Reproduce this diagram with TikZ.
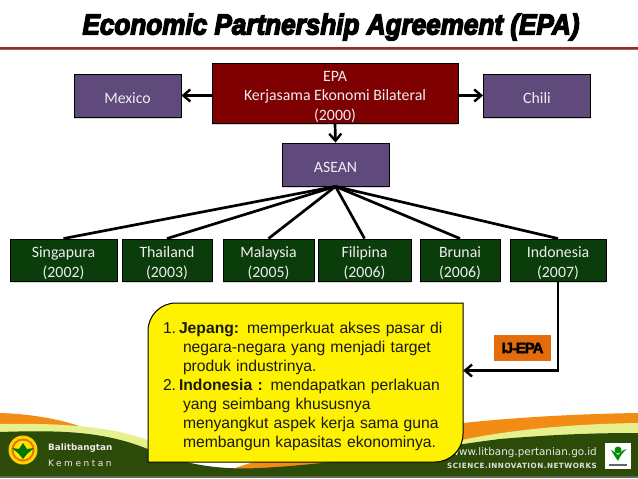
\documentclass[tikz,border=0pt]{standalone}
\usepackage{fontspec}
\usetikzlibrary{arrows.meta,shadows,calc}
\setmainfont{Carlito}
\newfontfamily\arialf{Liberation Sans}
\newfontfamily\titlef[FakeBold=5]{Liberation Sans Bold Italic}
\newfontfamily\tagf[FakeBold=2.5,LetterSpace=-7]{Liberation Sans Bold}
\newfontfamily\smallf{DejaVu Sans}
\newcommand{\toproom}[1]{\rule{0pt}{#1pt}}
\definecolor{purplebox}{HTML}{604A7B}
\definecolor{redbox}{HTML}{7F0000}
\definecolor{greenbox}{HTML}{0B3D0B}
\definecolor{boxtext}{HTML}{F0EDF2}
\definecolor{wavedark}{HTML}{2C4A08}
\definecolor{wavelight}{HTML}{E6F08C}
\definecolor{waveorange}{HTML}{F28C14}
\definecolor{ruler}{HTML}{AE2024}
\tikzset{
  orgbox/.style={draw=black,line width=0.9pt,inner sep=0pt,align=center,text=boxtext,
    font=\fontsize{15.8}{19.5}\selectfont,
    drop shadow={shadow xshift=0pt,shadow yshift=-2pt,opacity=.3}},
  purplenode/.style={orgbox,fill=purplebox,minimum width=107pt,minimum height=43pt},
  rednode/.style={orgbox,fill=redbox,minimum width=246pt,minimum height=60pt},
  countrynode/.style={orgbox,fill=greenbox,minimum height=42pt},
  link/.style={draw=black,line width=2.7pt},
  arrowlink/.style={link,-{Straight Barb[length=7pt,width=12pt,line width=2.4pt]}},
}
\begin{document}
\begin{tikzpicture}[x=1pt,y=-1pt]
\useasboundingbox[fill=white] (0,0) rectangle (638,479);
% footer waves
\fill[waveorange] (0,413) .. controls (35,414) and (70,421) .. (92,431) -- (0,440) -- cycle;
\fill[waveorange] (235,468) .. controls (320,440) and (450,416) .. (638,413) -- (638,440) -- (235,472) -- cycle;
\fill[wavelight] (0,424) .. controls (50,423) and (110,425) .. (150,441) .. controls (165,448) and (180,458) .. (195,465) -- (0,470) -- cycle;
\fill[wavelight] (440,445) .. controls (500,430) and (570,424) .. (638,423) -- (638,440) -- (440,450) -- cycle;
\fill[wavedark] (0,432) .. controls (60,430) and (105,431) .. (150,450) .. controls (185,465) and (220,470) .. (260,468) .. controls (340,464) and (430,448) .. (500,439) .. controls (560,434) and (600,433) .. (638,433) -- (638,476) -- (0,476) -- cycle;
\fill[black!45!wavedark!70!white] (0,476) rectangle (638,478);
% left logo
\fill[yellow!70!orange] (23,450) circle (14.5);
\fill[orange!90!black] (23,450) circle (11.5);
\fill[yellow!85!orange] (23,450) circle (9.5);
\fill[green!45!black] (23,443) -- (27,449) -- (34,448) -- (27,454) -- (23,459) -- (19,454) -- (12,448) -- (19,449) -- cycle;
% right logo
\fill[white] (605,443) rectangle (631,469);
\fill[green!55!black] (611,450) .. controls (614,455) and (616,458) .. (618,461) .. controls (620,456) and (623,452) .. (627,449) .. controls (623,450) and (620,452) .. (618,455) .. controls (616,453) and (614,451) .. (611,450) -- cycle;
\fill[green!55!black] (618,450) circle (3.5);
\fill[black!60] (609,464) rectangle (627,466);
% footer text
\node[anchor=west,inner sep=0pt,text=white!92!black,font=\smallf\bfseries\fontsize{8.8}{10}\selectfont] (unit) at (48,448) {Balitbangtan};
\node[anchor=west,inner sep=0pt,text=white!92!black,font=\smallf\fontsize{9}{10}\selectfont\addfontfeature{LetterSpace=28}] (ministry) at (48,463) {Kementan};
\node[anchor=east,inner sep=0pt,text=white!92!black,font=\smallf\fontsize{10.4}{12}\selectfont] (web) at (597,453) {www.litbang.pertanian.go.id};
\node[anchor=east,inner sep=0pt,text=white!88!black,font=\smallf\bfseries\fontsize{7.2}{8}\selectfont\addfontfeature{LetterSpace=7}] (motto) at (597,466) {SCIENCE.INNOVATION.NETWORKS};
% title
\node[inner sep=0pt,xscale=.9,font=\titlef\fontsize{29}{30}\selectfont] (title) at (331,27) {Economic Partnership Agreement (EPA)};
\fill[black!55] (0,49) rectangle (638,50);
\fill[ruler] (0,46.5) rectangle (638,49);
% boxes
\node[rednode] (epa) at (335,93) {\toproom{18}EPA\\Kerjasama Ekonomi Bilateral\\(2000)};
\node[purplenode] (mexico) at (127.5,95.5) {\toproom{17}Mexico};
\node[purplenode] (chili) at (537,95.5) {\toproom{17}Chili};
\node[purplenode] (asean) at (335.5,164.5) {\toproom{17}ASEAN};
\node[countrynode,minimum width=107pt] (sing) at (63.5,260) {\toproom{17.5}Singapura\\(2002)};
\node[countrynode,minimum width=90pt] (thai) at (167,260) {\toproom{17.5}Thailand\\(2003)};
\node[countrynode,minimum width=91pt] (malay) at (268.5,260) {\toproom{17.5}Malaysia\\(2005)};
\node[countrynode,minimum width=93pt] (fili) at (364.5,260) {\toproom{17.5}Filipina\\(2006)};
\node[countrynode,minimum width=80pt] (brunei) at (460,260) {\toproom{17.5}Brunai\\(2006)};
\node[countrynode,minimum width=96pt] (indo) at (558,260) {\toproom{17.5}Indonesia\\(2007)};
% connectors
\draw[arrowlink] (epa.west |- mexico.east) -- (mexico.east);
\draw[arrowlink] (epa.east |- chili.west) -- (chili.west);
\draw[arrowlink] (epa.south) -- (asean.north);
\foreach \c in {sing,thai,malay,fili,brunei,indo} \draw[link] (asean.south) -- (\c.north);
% callout
\draw[fill=yellow,draw=black,line width=1pt] (176,303) -- (463,303) -- (463,434) .. controls (463,449.5) and (450.5,462) .. (435,462) -- (148,462) -- (148,331) .. controls (148,315.5) and (160.5,303) .. (176,303) -- cycle;
\node[inner xsep=15pt,inner ysep=0pt,minimum height=159pt,text width=285pt,align=left,
  font=\arialf\fontsize{15.7}{18.9}\selectfont,text=black!90] (callout) at (305.5,382.5) {%
  \toproom{19}\makebox[16pt][l]{1.}\textbf{Jepang:} memperkuat akses pasar di\\
  \hspace*{20pt}negara-negara yang menjadi target\\
  \hspace*{20pt}produk industrinya.\\
  \makebox[16pt][l]{2.}\textbf{Indonesia :} mendapatkan perlakuan\\
  \hspace*{20pt}yang seimbang khususnya\\
  \hspace*{20pt}menyangkut aspek kerja sama guna\\
  \hspace*{20pt}membangun kapasitas ekonominya.};
\coordinate (entry) at ($(callout.north east)!0.425!(callout.south east)$);
\draw[arrowlink] (indo.south) |- (entry);
% IJ-EPA tag
\node[fill={rgb,255:red,228;green,108;blue,10},inner sep=0pt,minimum width=57pt,minimum height=26pt,font=\tagf\fontsize{15}{16}\selectfont] (tag) at (522.5,348) {IJ-EPA};
\end{tikzpicture}
\end{document}
